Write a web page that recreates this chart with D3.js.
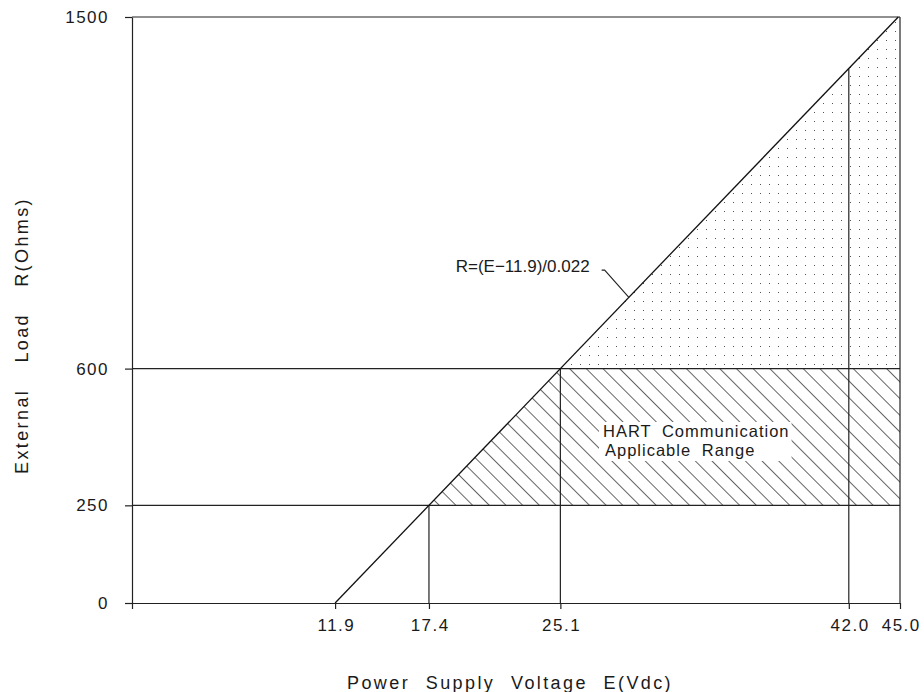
<!DOCTYPE html>
<html>
<head>
<meta charset="utf-8">
<script src="https://cdn.jsdelivr.net/npm/d3@7"></script>
<style>
  body { margin: 0; background: #fff; }
  text { font-family: "Liberation Sans", Arial, sans-serif; fill: #1a1a1a; }
</style>
</head>
<body>
<div id="chart"></div>
<script>
// Values
const voltTicks = [0, 11.9, 17.4, 25.1, 42.0, 45.0];
const loadTicks = [0, 250, 600, 1500];
const gridLoads = [250, 600, 1500];
// R = (E - 11.9) / 0.022, from its zero up to the top of the chart
const loadLine = [{volt: 11.9, load: 0}, {volt: 44.9, load: 1500}];
// vertical drop lines from the operating points
const dropLines = [{volt: 17.4, load: 250}, {volt: 25.1, load: 600}, {volt: 42.0, load: 1368}];
// HART applicable range (hatched) and the rest of the operating area (dotted)
const hartArea = [{volt: 17.4, load: 250}, {volt: 25.1, load: 600}, {volt: 45.0, load: 600}, {volt: 45.0, load: 250}];
const dotArea = [{volt: 25.1, load: 600}, {volt: 44.9, load: 1500}, {volt: 45.0, load: 1500}, {volt: 45.0, load: 600}];
const formulaPoint = {volt: 29.1, load: 783};

const width = 924;
const height = 692;

const svg = d3.select("#chart")
    .append("svg")
    .attr("width", width)
    .attr("height", height);

// Scales
const x = d3.scaleLinear().domain([0, 45]).range([132, 900]);
const y = d3.scaleLinear().domain([0, 1500]).range([603, 17]);

// Fill patterns
const defs = svg.append("defs");
const hatch = defs.append("pattern")
    .attr("id", "hatch")
    .attr("patternUnits", "userSpaceOnUse")
    .attr("width", 11.8)
    .attr("height", 11.8)
    .attr("patternTransform", "rotate(-45)");
hatch.append("line")
    .attr("x1", 0).attr("y1", -1)
    .attr("x2", 0).attr("y2", 13)
    .attr("stroke", "#000")
    .attr("stroke-width", 1.2);

const dots = defs.append("pattern")
    .attr("id", "dots")
    .attr("patternUnits", "userSpaceOnUse")
    .attr("width", 9)
    .attr("height", 9);
dots.append("rect")
    .attr("x", 4).attr("y", 4)
    .attr("width", 1).attr("height", 1)
    .attr("fill", "#555");

const area = d3.line()
    .x(d => x(d.volt))
    .y(d => y(d.load));

svg.append("path")
    .attr("d", area(hartArea) + "Z")
    .attr("fill", "url(#hatch)");

svg.append("path")
    .attr("d", area(dotArea) + "Z")
    .attr("fill", "url(#dots)");

// HART label with white box that interrupts the hatching
const hart = svg.append("g");
const hartBox = hart.append("rect").attr("fill", "#fff");
const hartText = hart.append("text")
    .attr("x", 603)
    .attr("y", 437)
    .attr("font-size", 16.5)
    .attr("letter-spacing", 1)
    .attr("word-spacing", 5);
hartText.append("tspan").attr("x", 603).text("HART Communication");
hartText.append("tspan").attr("x", 605).attr("dy", 19).text("Applicable Range");
const bb = hartText.node().getBBox();
hartBox
    .attr("x", bb.x - 4)
    .attr("y", bb.y)
    .attr("width", bb.width + 6)
    .attr("height", bb.height + 2);

// Horizontal lines at the load limits and the chart top
svg.selectAll(".grid")
    .data(gridLoads)
    .enter()
    .append("line")
    .attr("x1", x(0))
    .attr("x2", x(45))
    .attr("y1", d => y(d))
    .attr("y2", d => y(d))
    .attr("stroke", "#222")
    .attr("stroke-width", 1.2);

// Right frame
svg.append("line")
    .attr("x1", x(45)).attr("x2", x(45))
    .attr("y1", y(0)).attr("y2", y(1500))
    .attr("stroke", "#222")
    .attr("stroke-width", 1.2);

// Drop lines
svg.selectAll(".drop")
    .data(dropLines)
    .enter()
    .append("line")
    .attr("x1", d => x(d.volt))
    .attr("x2", d => x(d.volt))
    .attr("y1", d => y(d.load))
    .attr("y2", y(0))
    .attr("stroke", "#222")
    .attr("stroke-width", 1.2);

// Load line
svg.append("path")
    .attr("d", area(loadLine))
    .attr("fill", "none")
    .attr("stroke", "#111")
    .attr("stroke-width", 1.3);

// Axes
const xAxis = svg.append("g")
    .attr("transform", `translate(0,${y(0)})`)
    .call(d3.axisBottom(x)
        .tickValues(voltTicks)
        .tickFormat(d => d === 0 ? "" : d3.format(".1f")(d))
        .tickSize(6)
        .tickSizeOuter(0)
        .tickPadding(10));

const yAxis = svg.append("g")
    .attr("transform", `translate(${x(0)},0)`)
    .call(d3.axisLeft(y)
        .tickValues(loadTicks)
        .tickFormat(d3.format("d"))
        .tickSize(7)
        .tickSizeOuter(0)
        .tickPadding(16));

[xAxis, yAxis].forEach(g => {
    g.attr("font-size", 17).attr("font-family", "Liberation Sans, Arial, sans-serif");
    g.selectAll("path, line").attr("stroke", "#222").attr("stroke-width", 1.2);
    g.selectAll("text").attr("fill", "#1a1a1a").attr("letter-spacing", 1.5);
});
xAxis.selectAll("text").attr("dx", 0.75);

// Formula label and its leader
const fx = x(formulaPoint.volt);
const fy = y(formulaPoint.load);
svg.append("text")
    .attr("x", fx - 39)
    .attr("y", fy - 25)
    .attr("text-anchor", "end")
    .attr("font-size", 17)
    .text("R=(E\u221211.9)/0.022");
svg.append("path")
    .attr("d", d3.line()([[fx - 27, fy - 27], [fx - 24, fy - 27], [fx, fy]]))
    .attr("fill", "none")
    .attr("stroke", "#222")
    .attr("stroke-width", 1.1);

// Axis titles, word spacing stretched to the reference widths
function fitWords(sel, target) {
    const n = sel.text().split(" ").length - 1;
    const w = sel.node().getComputedTextLength();
    if (n > 0) sel.attr("word-spacing", Math.max(0, (target - w) / n));
}

const xTitle = svg.append("text")
    .attr("x", 510)
    .attr("y", 689)
    .attr("text-anchor", "middle")
    .attr("font-size", 18)
    .attr("letter-spacing", 2.4)
    .text("Power Supply Voltage E(Vdc)");
fitWords(xTitle, 326);

const yTitle = svg.append("text")
    .attr("transform", "translate(28,335.5) rotate(-90)")
    .attr("text-anchor", "middle")
    .attr("font-size", 18)
    .attr("letter-spacing", 2.4)
    .text("External Load R(Ohms)");
fitWords(yTitle, 277);
</script>
</body>
</html>
